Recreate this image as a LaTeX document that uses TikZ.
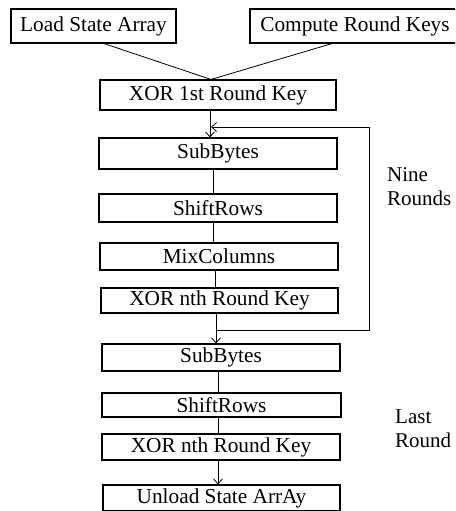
\documentclass[tikz,border=0pt]{standalone}
\usepackage{fontspec}
\setmainfont{Liberation Serif}
\usetikzlibrary{arrows.meta,calc}
\begin{document}
\begin{tikzpicture}[x=1pt,y=-1pt,
  box/.style={draw,line width=1.1pt,inner sep=0pt,font=\fontsize{21.3}{22}\selectfont},
  conn/.style={line width=0.8pt},
  arr/.style={conn,-{Straight Barb[length=5pt,width=9pt]}},
  lbl/.style={align=left,anchor=west,inner sep=0pt,font=\fontsize{21}{23.5}\selectfont}]
\clip (0,0) rectangle (455,511);
\node[box,minimum width=165pt,minimum height=34pt] (load) at (93.5,26) {Load State Array};
\node[box,minimum width=210pt,minimum height=34pt] (keys) at (355,26) {Compute Round Keys};
\node[box,minimum width=236pt,minimum height=30pt] (xor1) at (218,95) {XOR 1st Round Key};
\node[box,minimum width=238pt,minimum height=31pt] (sb1) at (218,153.5) {SubBytes};
\node[box,minimum width=238pt,minimum height=28pt] (sr1) at (218,208) {ShiftRows};
\node[box,minimum width=238pt,minimum height=27pt] (mc) at (219,256.5) {MixColumns};
\node[box,minimum width=237pt,minimum height=25pt] (xn1) at (219.5,300.5) {XOR nth Round Key};
\node[box,minimum width=238pt,minimum height=27pt] (sb2) at (221,357.5) {SubBytes};
\node[box,minimum width=239pt,minimum height=24pt] (sr2) at (221.5,405) {ShiftRows};
\node[box,minimum width=238pt,minimum height=26pt] (xn2) at (221,447) {XOR nth Round Key};
\node[box,minimum width=237pt,minimum height=26pt] (unl) at (221.5,498) {Unload State ArrAy};
\node[lbl] (nine) at (387,186.5) {Nine\\Rounds};
\node[lbl] (last) at (395,428.5) {Last\\Round};
% inputs
\coordinate (m) at ([xshift=-7pt]xor1.north);
\draw[conn] ([xshift=10.5pt]load.south) -- (m);
\draw[conn] ([xshift=-23pt]keys.south) -- (m);
% first round key to loop
\coordinate (a1) at ([xshift=-8pt]xor1.south);
\draw[arr] (a1) -- (a1 |- sb1.north);
\coordinate (a2) at ([xshift=-5pt]sb1.south);
\draw[conn] (a2) -- (a2 |- sr1.north);
\coordinate (a3) at ([xshift=-5pt]sr1.south);
\draw[conn] (a3) -- (a3 |- mc.north);
\coordinate (a4) at ([xshift=-4pt]mc.south);
\draw[conn] (a4) -- (a4 |- xn1.north);
\coordinate (a5) at ([xshift=-3.5pt]xn1.south);
\draw[arr] (a5) -- (a5 |- sb2.north);
% feedback loop
\coordinate (fb) at (369,330);
\coordinate (ft) at (369,127);
\draw[arr] (a5 |- fb) -- (fb) -- (ft) -- ([xshift=1pt]a1 |- ft);
% last round
\coordinate (b1) at ([xshift=-3pt]sb2.south);
\draw[conn] (b1) -- (b1 |- sr2.north);
\coordinate (b2) at ([xshift=-3.5pt]sr2.south);
\draw[conn] (b2) -- (b2 |- xn2.north);
\coordinate (b3) at ([xshift=-3pt]xn2.south);
\draw[arr] (b3) -- (b3 |- unl.north);
\end{tikzpicture}
\end{document}
